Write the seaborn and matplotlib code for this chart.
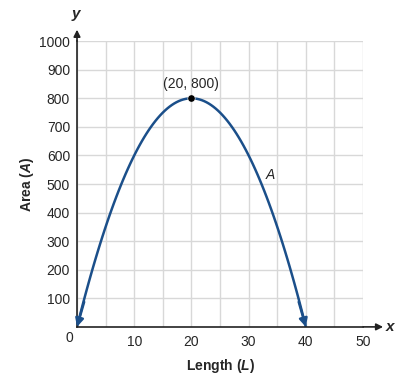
import matplotlib
matplotlib.use('Agg')
import matplotlib.pyplot as plt
import seaborn as sns
import pandas as pd

# values
length = [0, 5, 10, 15, 20, 25, 30, 35, 40]
area = [0, 350, 600, 750, 800, 750, 600, 350, 0]
vertex = (20, 800)
x_ticks = [0, 10, 20, 30, 40, 50]
y_ticks = [100, 200, 300, 400, 500, 600, 700, 800, 900, 1000]

sns.set_style('white')
plt.rcParams['font.family'] = ['Liberation Sans', 'DejaVu Sans']
plt.rcParams['mathtext.fontset'] = 'custom'
plt.rcParams['mathtext.it'] = 'Liberation Sans:italic:bold'

blue = '#1b4f8a'
df = pd.DataFrame({'L': length, 'A': area})

fig = plt.figure(figsize=(4.14, 3.81), dpi=100)
ax = fig.add_axes([0.186, 0.142, 0.691, 0.750])

sns.regplot(data=df, x='L', y='A', order=2, ci=None, scatter=False, truncate=True,
            line_kws=dict(color=blue, lw=1.8, solid_capstyle='butt'), ax=ax)

# arrow heads at both ends of the curve
for i0, i1 in [(0, 1), (-1, -2)]:
    tip = (length[i0], area[i0])
    tail = (length[i0] + (length[i1] - length[i0]) * 0.25, area[i0] + (area[i1] - area[i0]) * 0.25)
    ax.annotate('', xy=tip, xytext=tail,
                arrowprops=dict(arrowstyle='-|>', color=blue, lw=1.8,
                                mutation_scale=12, shrinkA=0, shrinkB=0))

sns.scatterplot(x=[vertex[0]], y=[vertex[1]], color='black', s=28, zorder=5, ax=ax)
ax.text(vertex[0], vertex[1] + 25, f'({vertex[0]}, {vertex[1]})', ha='center', va='bottom', fontsize=10)
ax.text(33.7, 530, 'A', fontstyle='italic', fontsize=10, ha='center', va='center')

ax.set_xlim(0, 50)
ax.set_ylim(0, 1000)
ax.set_xticks(range(0, 51, 5))
ax.set_xticklabels([str(v) if v in x_ticks and v != 0 else '' for v in range(0, 51, 5)])
ax.set_yticks(y_ticks)
ax.set_yticklabels([str(v) for v in y_ticks])
ax.grid(True, color='#d8d8d8', lw=1)
ax.set_axisbelow(True)
ax.tick_params(axis='x', direction='inout', length=7, width=1, color='#222222',
               labelsize=10, pad=2)
ax.tick_params(axis='y', direction='out', length=4, width=1, color='#222222',
               labelsize=10, pad=1)

for s in ['top', 'right']:
    ax.spines[s].set_visible(False)
for s in ['left', 'bottom']:
    ax.spines[s].set_color('#222222')
    ax.spines[s].set_linewidth(1.2)

# axis arrows
ax.annotate('', xy=(1.07, 0), xycoords='axes fraction', xytext=(1.0, 0),
            arrowprops=dict(arrowstyle='-|>', color='#222222', lw=1.2, mutation_scale=10,
                            shrinkA=0, shrinkB=0))
ax.annotate('', xy=(0, 1.04), xycoords='axes fraction', xytext=(0, 1.0),
            arrowprops=dict(arrowstyle='-|>', color='#222222', lw=1.2, mutation_scale=10,
                            shrinkA=0, shrinkB=0))
ax.text(1.08, 0, 'x', transform=ax.transAxes, fontsize=11, fontweight='bold',
        fontstyle='italic', ha='left', va='center')
ax.text(-0.005, 1.07, 'y', transform=ax.transAxes, fontsize=11, fontweight='bold',
        fontstyle='italic', ha='center', va='bottom')
ax.text(-0.012, -0.015, '0', transform=ax.transAxes, fontsize=10, ha='right', va='top')

ax.set_xlabel('Length ($L$)', fontsize=10, fontweight='bold', labelpad=6)
ax.set_ylabel('Area ($A$)', fontsize=10, fontweight='bold', labelpad=2)

fig.savefig('out.png', dpi=100)
